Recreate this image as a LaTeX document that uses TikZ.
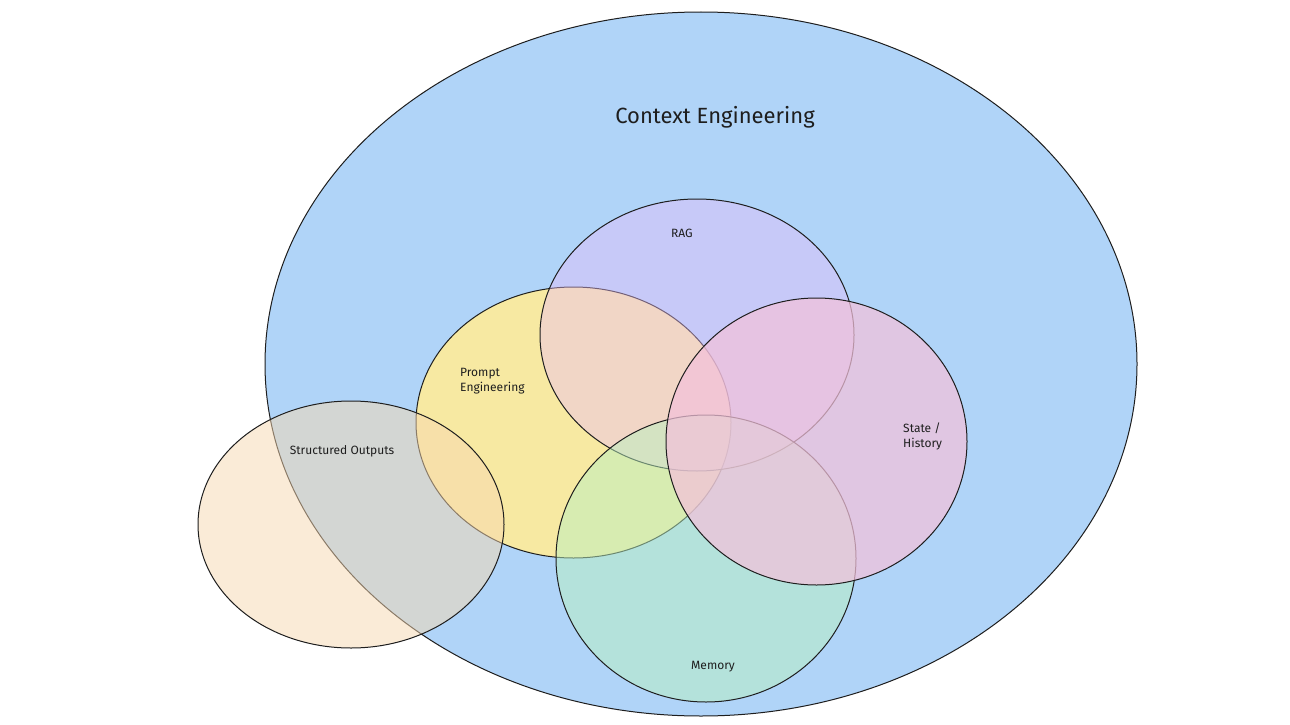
\documentclass[tikz,border=0pt]{standalone}
\usepackage{fontspec}
\setmainfont{Fira Sans}
\usetikzlibrary{shapes.geometric}
\definecolor{ink}{HTML}{1E1E1E}
\definecolor{cblue}{HTML}{B0D4F8}
\definecolor{cyellow}{HTML}{FFEC99}
\definecolor{cviolet}{HTML}{E9BCF8}
\definecolor{cgreen}{HTML}{B8F0C0}
\definecolor{cpink}{HTML}{F3C1DA}
\definecolor{corange}{HTML}{F7D8B0}
\tikzset{
  blob/.style={ellipse, draw=ink, line width=1pt, inner sep=0pt},
  lbl/.style={font=\fontsize{12}{15}\selectfont, text=ink, inner sep=0pt},
}
\begin{document}
\begin{tikzpicture}[x=1pt,y=-1pt]
\useasboundingbox (0,0) rectangle (1290,725);
\fill[white] (0,0) rectangle (1290,725);
\node[blob, fill=cblue, minimum width=872pt, minimum height=704pt] (ctx) at (701,364) {};
\node[blob, fill=cyellow, fill opacity=0.9, minimum width=315pt, minimum height=271pt] (prompt) at (573.5,422.5) {};
\node[blob, fill=cviolet, fill opacity=0.42, minimum width=314pt, minimum height=272pt] (rag) at (697,335) {};
\node[blob, fill=cgreen, fill opacity=0.5, minimum width=300pt, minimum height=287pt] (mem) at (706,558.5) {};
\node[blob, fill=cpink, fill opacity=0.72, minimum width=301pt, minimum height=287pt] (state) at (816.5,441.5) {};
\node[blob, fill=corange, fill opacity=0.5, minimum width=306pt, minimum height=247pt] (struct) at (351,524.5) {};
\node[lbl, font=\fontsize{22}{26}\selectfont] (tctx) at (715,117) {Context Engineering};
\node[lbl] (trag) at (682,233) {RAG};
\node[lbl, align=left, anchor=west] (tprompt) at (460,381) {Prompt\\Engineering};
\node[lbl] (tstruct) at (342,451) {Structured Outputs};
\node[lbl, align=left, anchor=west] (tstate) at (903,436) {State /\\History};
\node[lbl] (tmem) at (713,667) {Memory};
\end{tikzpicture}
\end{document}
